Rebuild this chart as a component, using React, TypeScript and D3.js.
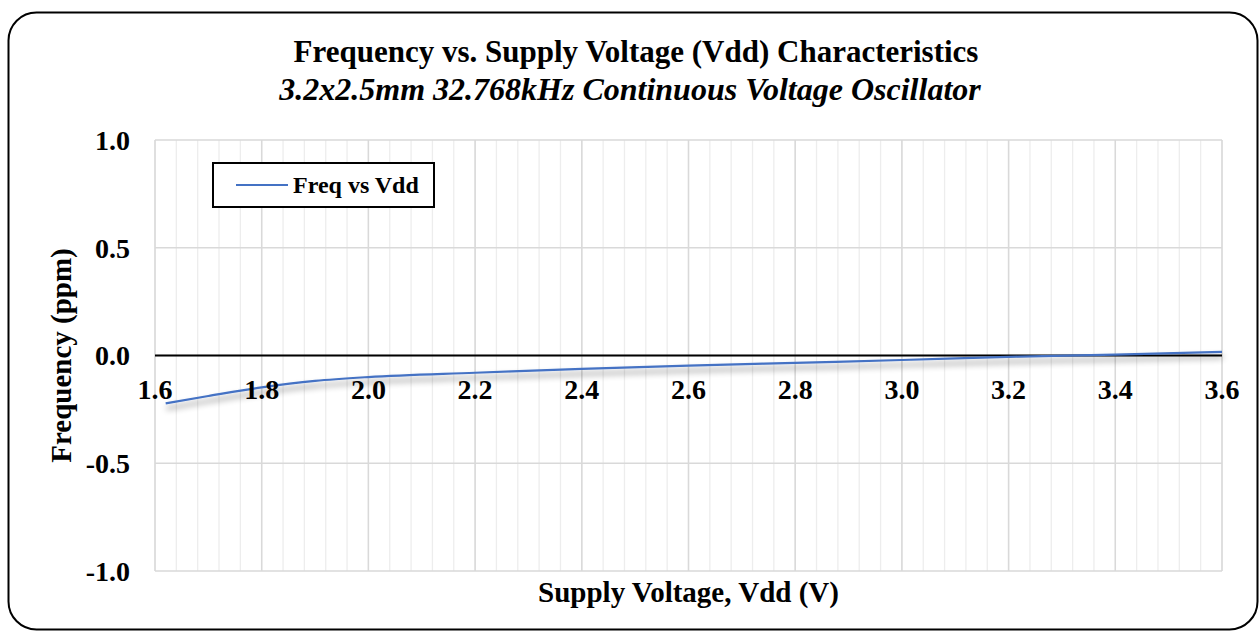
import React from "react";
import * as d3 from "d3";

const voltages = [1.62, 1.7, 1.8, 1.9, 2.0, 2.2, 2.4, 2.6, 2.8, 3.0, 3.2, 3.4, 3.6];
const freqPpm = [-0.222, -0.188, -0.148, -0.118, -0.1, -0.08, -0.062, -0.047, -0.034, -0.021, -0.006, 0.004, 0.017];
const xMajorTicks = [1.6, 1.8, 2.0, 2.2, 2.4, 2.6, 2.8, 3.0, 3.2, 3.4, 3.6];
const yTicks = [-1.0, -0.5, 0.0, 0.5, 1.0];
const seriesName = "Freq vs Vdd";
const title = "Frequency vs. Supply Voltage (Vdd) Characteristics";
const subtitle = "3.2x2.5mm 32.768kHz Continuous Voltage Oscillator";
const xTitle = "Supply Voltage, Vdd (V)";
const yTitle = "Frequency (ppm)";

const W = 1260;
const H = 632;
const plot = { left: 155, right: 1222, top: 140, bottom: 571 };
const FONT = "'Liberation Serif', 'Times New Roman', serif";

export default function App() {
  const x = d3.scaleLinear().domain([1.6, 3.6]).range([plot.left, plot.right]);
  const y = d3.scaleLinear().domain([-1, 1]).range([plot.bottom, plot.top]);
  const minorTicks = d3.range(0, 51).map((i) => 1.6 + i * 0.04);
  const data = voltages.map((v, i) => [v, freqPpm[i]] as [number, number]);
  const line = d3
    .line<[number, number]>()
    .x((d) => x(d[0]))
    .y((d) => y(d[1]))
    .curve(d3.curveMonotoneX);

  return (
    <svg
      width={W}
      height={H}
      style={{ position: "fixed", left: 0, top: 0, background: "#fff" }}
      fontFamily={FONT}
    >
      <defs>
        <filter id="shadow" x="-5%" y="-50%" width="110%" height="300%">
          <feGaussianBlur in="SourceAlpha" stdDeviation="3" />
          <feOffset dx="1" dy="5" result="blur" />
          <feComponentTransfer>
            <feFuncA type="linear" slope="0.5" />
          </feComponentTransfer>
          <feMerge>
            <feMergeNode />
            <feMergeNode in="SourceGraphic" />
          </feMerge>
        </filter>
      </defs>
      <rect x={0} y={0} width={W} height={H} fill="#fff" />
      <rect x={8.5} y={12.5} width={1249} height={617} rx={28} fill="#fff" stroke="#000" strokeWidth={2} />

      {/* minor vertical gridlines */}
      {minorTicks.map((t, i) => (
        <line key={"mn" + i} x1={x(t)} x2={x(t)} y1={plot.top} y2={plot.bottom} stroke="#ededed" strokeWidth={1.3} />
      ))}
      {/* major vertical gridlines */}
      {xMajorTicks.map((t, i) => (
        <line key={"mj" + i} x1={x(t)} x2={x(t)} y1={plot.top} y2={plot.bottom} stroke="#d9d9d9" strokeWidth={1.5} />
      ))}
      {/* horizontal gridlines */}
      {yTicks.map((t, i) => (
        <line key={"h" + i} x1={plot.left} x2={plot.right} y1={y(t)} y2={y(t)} stroke="#d9d9d9" strokeWidth={1.5} />
      ))}

      {/* zero axis */}
      <line x1={plot.left} x2={plot.right} y1={y(0)} y2={y(0)} stroke="#000" strokeWidth={2.2} />

      {/* series */}
      <path d={line(data) || ""} fill="none" stroke="#4472C4" strokeWidth={2.2} filter="url(#shadow)" />

      {/* x tick labels */}
      {xMajorTicks.map((t, i) => (
        <text key={"xl" + i} x={x(t)} y={399} textAnchor="middle" fontSize={28} fontWeight="bold" fill="#000">
          {t.toFixed(1)}
        </text>
      ))}
      {/* y tick labels */}
      {yTicks.map((t, i) => (
        <text key={"yl" + i} x={130} y={y(t)} dy="0.35em" textAnchor="end" fontSize={28} fontWeight="bold" fill="#000">
          {t.toFixed(1)}
        </text>
      ))}

      {/* titles */}
      <text x={636} y={62} textAnchor="middle" fontSize={31} fontWeight="bold" fill="#000">
        {title}
      </text>
      <text x={630} y={100} textAnchor="middle" fontSize={32} fontStyle="italic" fontWeight="bold" fill="#000">
        {subtitle}
      </text>
      <text x={(plot.left + plot.right) / 2} y={602} textAnchor="middle" fontSize={29} fontWeight="bold" fill="#000">
        {xTitle}
      </text>
      <text
        transform={`translate(71, ${(plot.top + plot.bottom) / 2}) rotate(-90)`}
        textAnchor="middle"
        fontSize={29}
        fontWeight="bold"
        fill="#000"
      >
        {yTitle}
      </text>

      {/* legend */}
      <rect x={213} y={163} width={221} height={44} fill="#fff" stroke="#000" strokeWidth={2} />
      <line x1={236} x2={288} y1={185} y2={185} stroke="#4472C4" strokeWidth={2.2} />
      <text x={293} y={193} fontSize={24} fontWeight="bold" fill="#000">
        {seriesName}
      </text>
    </svg>
  );
}
